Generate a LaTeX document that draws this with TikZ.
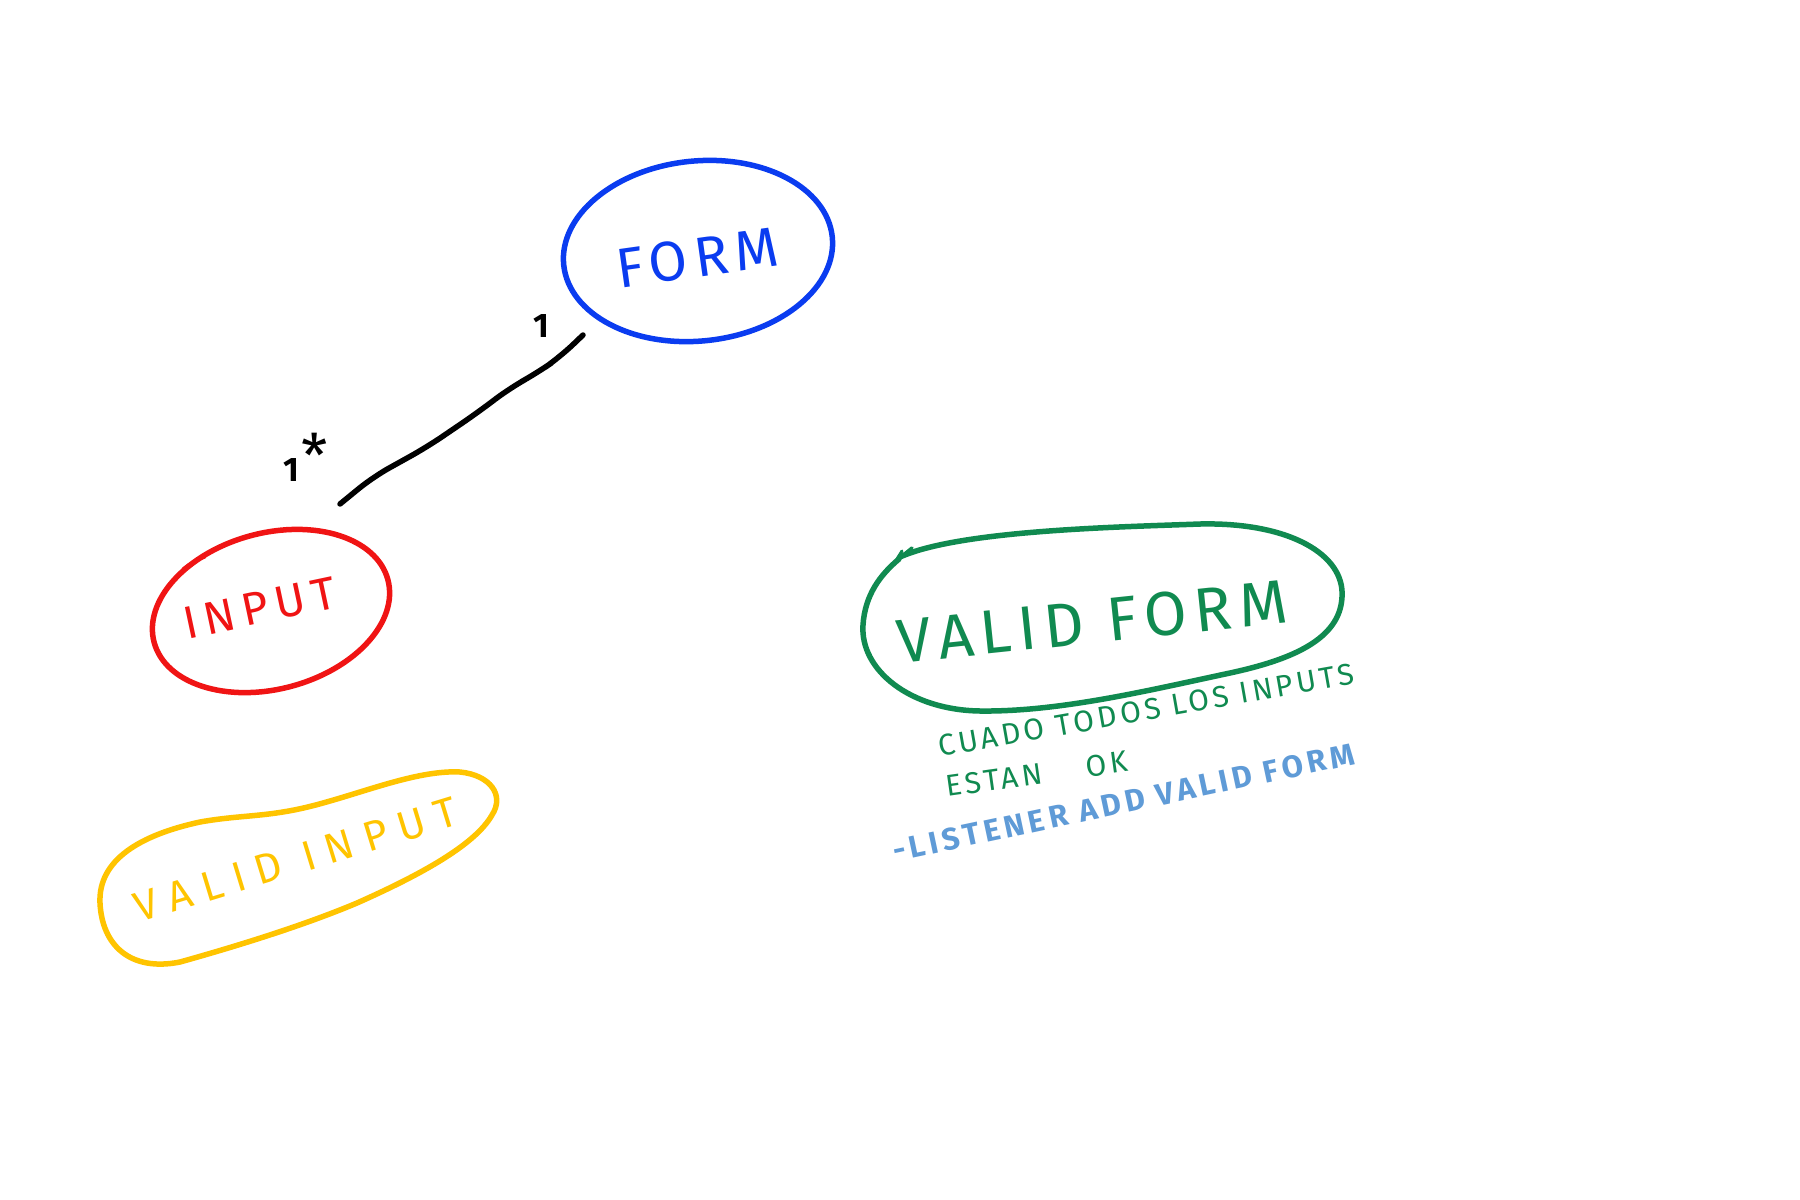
\documentclass[tikz,border=0pt]{standalone}
\usepackage{fontspec}
\setmainfont{Fira Sans}
\usetikzlibrary{shapes.geometric}
\definecolor{formblue}{RGB}{10,60,240}
\definecolor{inred}{RGB}{240,20,20}
\definecolor{vyellow}{RGB}{255,196,0}
\definecolor{vgreen}{RGB}{16,138,80}
\definecolor{noteblue}{RGB}{95,155,215}
\begin{document}
\begin{tikzpicture}[x=1pt,y=-1pt,
  blob/.style={ellipse, draw, line width=5.5pt, inner sep=0pt},
  outline/.style={line width=5.5pt, line cap=round, line join=round},
  hand/.style={inner sep=0pt, font=\fontsize{#1}{#1}\selectfont\addfontfeature{LetterSpace=12}},
  mult/.style={inner sep=0pt, font=\fontsize{34}{34}\selectfont\bfseries}]
\fill[white] (0,0) rectangle (1800,1200);
\useasboundingbox (0,0) rectangle (1800,1200);
% ellipses
\node[blob, draw=formblue, minimum width=270, minimum height=180, rotate=6] (form) at (698,251) {};
\node[blob, draw=inred, minimum width=242, minimum height=156, rotate=15] (input) at (271,611) {};
\draw[outline, draw=inred, line width=3pt] (183,569) .. controls (190,563) and (197,560) .. (205,557);
% valid input outline
\draw[outline, draw=vyellow] (100,903) .. controls (98,860) and (140,835) .. (200,822)
  .. controls (245,814) and (270,818) .. (323,803)
  .. controls (370,790) and (420,770) .. (460,772)
  .. controls (490,775) and (505,795) .. (492,815)
  .. controls (475,845) and (420,875) .. (357,903)
  .. controls (300,927) and (230,948) .. (180,962)
  .. controls (130,972) and (102,945) .. cycle;
% valid form outline
\draw[outline, draw=vgreen] (900,557) .. controls (960,530) and (1120,527) .. (1200,524)
  .. controls (1290,522) and (1345,555) .. (1342,597)
  .. controls (1340,640) and (1290,660) .. (1230,673)
  .. controls (1150,690) and (1060,712) .. (980,711)
  .. controls (910,710) and (860,670) .. (863,625)
  .. controls (865,595) and (880,575) .. (899,559);
\draw[outline, draw=vgreen, line width=3.5pt] (896,561) -- (912,548);
\draw[outline, draw=vgreen, line width=3pt] (897,559) -- (902,551);
% labels in ellipses
\node[hand=56, text=formblue, rotate=8] (formt) at (697,258) {FORM};
\node[inner sep=0pt, text=inred, rotate=12,
  font=\fontsize{46}{46}\selectfont\addfontfeature{LetterSpace=16}] (inputt) at (260,608) {INPUT};
\node[inner sep=0pt, text=vyellow, rotate=17,
  font=\fontsize{42}{42}\selectfont\addfontfeature{LetterSpace=27}] (vinputt) at (296,860) {VALID INPUT};
\node[hand=62, text=vgreen, rotate=6] (vformt) at (1092,622) {VALID FORM};
% connector
\coordinate (cf) at (583,335);
\coordinate (ci) at (340,504);
\draw[line width=5.5pt, line cap=round, rounded corners=18pt]
  (ci) -- (373,477) -- (427,447) -- (477,413) -- (510,388) -- (537,373) -- (560,357) -- (cf);
\node[mult] (m1) at (541,326) {1};
\node[mult] (m2) at (291,470) {1};
\node[inner sep=0pt, font=\fontsize{60}{60}\selectfont] (m3) at (315,455) {*};
% notes
\node[hand=30, text=vgreen, rotate=10, anchor=base west] (n1) at (940,757) {CUADO TODOS LOS INPUTS};
\node[hand=30, text=vgreen, rotate=8, anchor=base west] (n2) at (947,797) {ESTAN\hspace{44pt}OK};
\node[inner sep=0pt, text=noteblue, rotate=12, anchor=base west,
  font=\fontsize{31}{31}\selectfont\bfseries\addfontfeature{LetterSpace=14}] (n3) at (895,862) {-LISTENER ADD VALID FORM};
\end{tikzpicture}
\end{document}
